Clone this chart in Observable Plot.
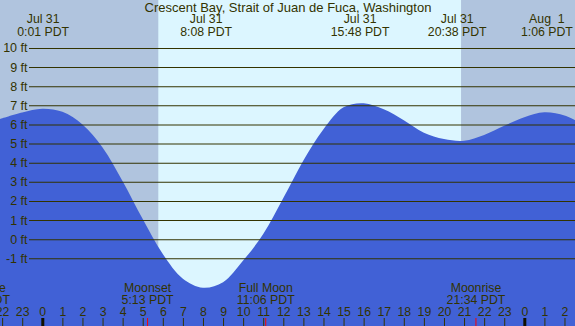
<!DOCTYPE html>
<html>
<head>
<meta charset="utf-8">
<script src="https://cdn.jsdelivr.net/npm/d3@7"></script>
<script src="https://cdn.jsdelivr.net/npm/@observablehq/plot@0.6"></script>
<style>
  html, body { margin: 0; padding: 0; background: #fff; }
  #chart svg { display: block; }
</style>
</head>
<body>
<div id="chart"></div>
<script>
// ---- data ----
const title = "Crescent Bay, Strait of Juan de Fuca, Washington";

const tideHours   = [-2.106, -1, 0, 1, 2, 3, 4, 5, 6, 7, 8, 9, 10, 11, 12, 13, 14, 15, 16, 17, 18, 19, 20, 21, 22, 23, 24, 25, 26, 26.524];
const tideHeights = [6.28, 6.62, 6.82, 6.66, 6.0, 4.8, 3.03, 1.05, -0.78, -2.07, -2.54, -2.25, -1.12, 0.27, 2.15, 4.12, 5.75, 6.9, 7.11, 6.79, 6.22, 5.57, 5.24, 5.15, 5.45, 5.93, 6.38, 6.64, 6.47, 6.23];

// high / low tide labels
const extremeHours = [0.017, 8.133, 15.8, 20.633, 25.1];
const extremeDates = ["Jul 31", "Jul 31", "Jul 31", "Jul 31", "Aug\u00a0\u00a01"];
const extremeTimes = ["0:01 PDT", "8:08 PDT", "15:48 PDT", "20:38 PDT", "1:06 PDT"];

// moon events
const moonHours = [-3.1, 5.217, 11.1, 21.567];
const moonNames = ["Moonrise", "Moonset", "Full Moon", "Moonrise"];
const moonTimes = ["20:54 PDT", "5:13 PDT", "11:06 PDT", "21:34 PDT"];

// daylight
const sunrise = 5.776;
const sunset = 20.85;

// axis ticks
const feetTicks = [-1, 0, 1, 2, 3, 4, 5, 6, 7, 8, 9, 10];
const hourTicks = d3.range(-2, 27);
const midnightTicks = [0, 24];

// ---- build ----
const xDomain = [-2.106, 26.524];
const yDomain = [-4.539, 12.507];
const tide = tideHours.map((h, i) => ({h, ft: tideHeights[i]}));
const nights = [{a: xDomain[0], b: sunrise}, {a: sunset, b: xDomain[1]}];

const ink = "#333300";
const fs = 12.3;
const chart = Plot.plot({
  width: 575,
  height: 326,
  margin: 0,
  x: {domain: xDomain, axis: null},
  y: {domain: yDomain, axis: null},
  style: {fontFamily: "'Liberation Sans', Arial, sans-serif", fontSize: fs + "px", color: ink, background: "#dcf6ff"},
  marks: [
    Plot.rect(nights, {x1: "a", x2: "b", fill: "#b0c4de"}),
    Plot.areaY(tide, {x: "h", y1: () => yDomain[0], y2: "ft", fill: "#4161d6", curve: "catmull-rom"}),
    Plot.ruleY(feetTicks, {y: d => d, stroke: ink, strokeWidth: 1.1, insetLeft: 29}),
    Plot.text(feetTicks, {y: d => d, text: d => `${d} ft`, frameAnchor: "left", dx: 27, textAnchor: "end", fill: ink, fontSize: 12.5}),
    Plot.text([title], {text: d => d, frameAnchor: "top", lineAnchor: "middle", dy: 7, fill: ink, fontSize: 13}),
    Plot.text(extremeHours, {x: d => d, text: (d, i) => extremeDates[i], frameAnchor: "top", lineAnchor: "middle", dy: 19, fill: ink, fontSize: fs}),
    Plot.text(extremeHours, {x: d => d, text: (d, i) => extremeTimes[i], frameAnchor: "top", lineAnchor: "middle", dy: 31.7, fill: ink, fontSize: fs}),
    Plot.text(moonHours, {x: d => d, text: (d, i) => moonNames[i], frameAnchor: "bottom", lineAnchor: "middle", dy: -38.7, fill: ink, fontSize: fs}),
    Plot.text(moonHours, {x: d => d, text: (d, i) => moonTimes[i], frameAnchor: "bottom", lineAnchor: "middle", dy: -26.7, fill: ink, fontSize: fs}),
    Plot.text(hourTicks, {x: d => d, text: d => String((d + 24) % 24), frameAnchor: "bottom", lineAnchor: "middle", dy: -14.3, fill: ink, fontSize: fs}),
    Plot.ruleX(hourTicks, {x: d => d, insetTop: 318, stroke: ink, strokeWidth: 1}),
    Plot.ruleX(midnightTicks, {x: d => d, insetTop: 318, stroke: "#111100", strokeWidth: 3}),
    Plot.ruleX(moonHours, {x: d => d, insetTop: 318, stroke: "#ff0000", strokeWidth: 1})
  ]
});
document.getElementById("chart").appendChild(chart);
</script>
</body>
</html>
